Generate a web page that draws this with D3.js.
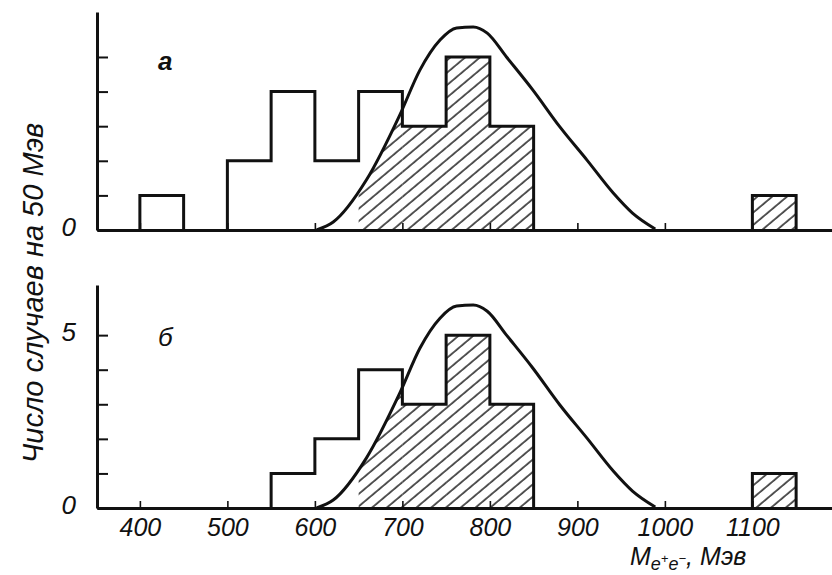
<!DOCTYPE html>
<html>
<head>
<meta charset="utf-8">
<script src="https://cdn.jsdelivr.net/npm/d3@7"></script>
<style>
  body { margin: 0; background: #fff; }
  svg text { font-family: "Liberation Sans", Arial, sans-serif; font-style: italic; fill: #111; }
</style>
</head>
<body>
<div id="chart"></div>
<script>
// bins are 50 MeV wide, given by their lower edge
const binLo = [400, 500, 550, 600, 650, 700, 750, 800, 1100]
const countsA = [1, 2, 4, 2, 4, 3, 5, 3, 1]
const countsB = [0, 0, 1, 2, 4, 3, 5, 3, 1]
// hatched part of the histogram
const hatchLo = [650, 700, 750, 800, 1100]
const hatchA = [4, 3, 5, 3, 1]
const hatchB = [4, 3, 5, 3, 1]
// smooth curve (MeV, counts)
const curveE = [602, 621, 659, 697, 720, 743, 762, 781, 797, 819, 849, 880, 911, 941, 963, 989]
const curveN = [0, 0.23, 1.45, 3.32, 4.62, 5.49, 5.84, 5.87, 5.69, 5.0, 4.05, 2.98, 2.02, 1.07, 0.49, 0.03]
const xTicks = [400, 500, 600, 700, 800, 900, 1000, 1100]
const binW = 50

const W = 832, H = 575
const svg = d3.select('#chart').append('svg')
    .attr('width', W)
    .attr('height', H)

svg.append('rect').attr('width', W).attr('height', H).attr('fill', '#fff')

const x = d3.scaleLinear().domain([351, 1191]).range([97, 832])

// hatch pattern
svg.append('defs').append('pattern')
    .attr('id', 'hatch')
    .attr('patternUnits', 'userSpaceOnUse')
    .attr('width', 9.5)
    .attr('height', 9.5)
    .attr('patternTransform', 'rotate(50)')
    .append('line')
    .attr('x1', 1).attr('y1', 0).attr('x2', 1).attr('y2', 9.5)
    .attr('stroke', '#111').attr('stroke-width', 1.4)

const curvePts = curveE.map((e, i) => [e, curveN[i]])

const panels = [
    { id: 'a', counts: countsA, hatch: hatchA, y: d3.scaleLinear().domain([0, 6.3]).range([230, 12]), labels: [0], letter: 'а', bold: true, letterY: 70 },
    { id: 'b', counts: countsB, hatch: hatchB, y: d3.scaleLinear().domain([0, 6.45]).range([508, 285]), labels: [0, 5], letter: 'б', bold: false, letterY: 346 }
]

panels.forEach(p => {
    const g = svg.append('g')
    const y = p.y

    // area under the curve, used to clip the hatching
    const area = d3.area()
        .x(d => x(d[0]))
        .y0(y(0))
        .y1(d => y(d[1]))
        .curve(d3.curveMonotoneX)
    svg.select('defs').append('clipPath')
        .attr('id', 'clip-' + p.id)
        .append('path')
        .attr('d', area(curvePts))

    const hatchData = hatchLo.map((lo, i) => ({ lo, n: p.hatch[i] }))
    const curveEnd = curveE[curveE.length - 1]
    g.selectAll('rect.under')
        .data(hatchData.filter(d => d.lo < curveEnd))
        .join('rect')
        .attr('clip-path', `url(#clip-${p.id})`)
        .attr('x', d => x(d.lo))
        .attr('y', d => y(d.n))
        .attr('width', d => x(d.lo + binW) - x(d.lo))
        .attr('height', d => y(0) - y(d.n))
        .attr('fill', 'url(#hatch)')
    g.selectAll('rect.free')
        .data(hatchData.filter(d => d.lo >= curveEnd))
        .join('rect')
        .attr('x', d => x(d.lo))
        .attr('y', d => y(d.n))
        .attr('width', d => x(d.lo + binW) - x(d.lo))
        .attr('height', d => y(0) - y(d.n))
        .attr('fill', 'url(#hatch)')

    // histogram outline, one step path per group of adjacent bins
    const groups = []
    let cur = null
    binLo.forEach((lo, i) => {
        const n = p.counts[i]
        if (!n) { cur = null; return }
        if (!cur || cur.end !== lo) {
            cur = { end: lo, pts: [[lo, 0]] }
            groups.push(cur)
        }
        cur.pts.push([lo, n], [lo + binW, n])
        cur.end = lo + binW
    })
    groups.forEach(gr => gr.pts.push([gr.end, 0]))

    const step = d3.line().x(d => x(d[0])).y(d => y(d[1]))
    g.selectAll('path.hist')
        .data(groups)
        .join('path')
        .attr('d', d => step(d.pts))
        .attr('fill', 'none')
        .attr('stroke', '#111')
        .attr('stroke-width', 3)
        .attr('stroke-linejoin', 'miter')

    // curve
    g.append('path')
        .attr('d', d3.line().x(d => x(d[0])).y(d => y(d[1])).curve(d3.curveMonotoneX)(curvePts))
        .attr('fill', 'none')
        .attr('stroke', '#111')
        .attr('stroke-width', 3)

    // x axis, ticks pointing up
    const xa = g.append('g')
        .attr('transform', `translate(0,${y(0)})`)
        .call(d3.axisBottom(x).tickValues(xTicks).tickSize(-7).tickSizeOuter(0).tickPadding(10)
            .tickFormat(p.id === 'b' ? d3.format('d') : () => ''))
    xa.select('.domain').attr('stroke', '#111').attr('stroke-width', 3)
    xa.selectAll('.tick line').attr('stroke', '#111').attr('stroke-width', 1.6)
    xa.selectAll('.tick text').attr('font-size', 25).attr('fill', '#111')

    // y axis, ticks pointing right
    const ya = g.append('g')
        .attr('transform', `translate(${x(351)},0)`)
        .call(d3.axisLeft(y).tickValues([0, 1, 2, 3, 4, 5]).tickSize(-11).tickSizeOuter(0).tickPadding(21)
            .tickFormat(d => p.labels.includes(d) ? d : ''))
    ya.select('.domain').attr('stroke', '#111').attr('stroke-width', 3)
    ya.selectAll('.tick line').attr('stroke', '#111').attr('stroke-width', 2)
    ya.selectAll('.tick text').attr('font-size', 26).attr('fill', '#111').attr('dy', '0.2em')

    g.append('text')
        .attr('x', 158)
        .attr('y', p.letterY)
        .attr('font-size', 26)
        .attr('font-weight', p.bold ? 'bold' : 'normal')
        .text(p.letter)
})

// y label
svg.append('text')
    .attr('transform', 'translate(43,293) rotate(-90)')
    .attr('text-anchor', 'middle')
    .attr('font-size', 29)
    .text('Число случаев на 50 Мэв')

// x label
const xl = svg.append('text')
    .attr('x', 630)
    .attr('y', 565)
    .attr('font-size', 25)
xl.append('tspan').text('M')
xl.append('tspan').attr('dy', 5).attr('font-size', 18).text('e')
xl.append('tspan').attr('dy', -7).attr('font-size', 13).text('+')
xl.append('tspan').attr('dy', 7).attr('font-size', 18).text('e')
xl.append('tspan').attr('dy', -7).attr('font-size', 13).text('−')
xl.append('tspan').attr('dy', 2).attr('font-size', 25).text(', Мэв')
</script>
</body>
</html>
